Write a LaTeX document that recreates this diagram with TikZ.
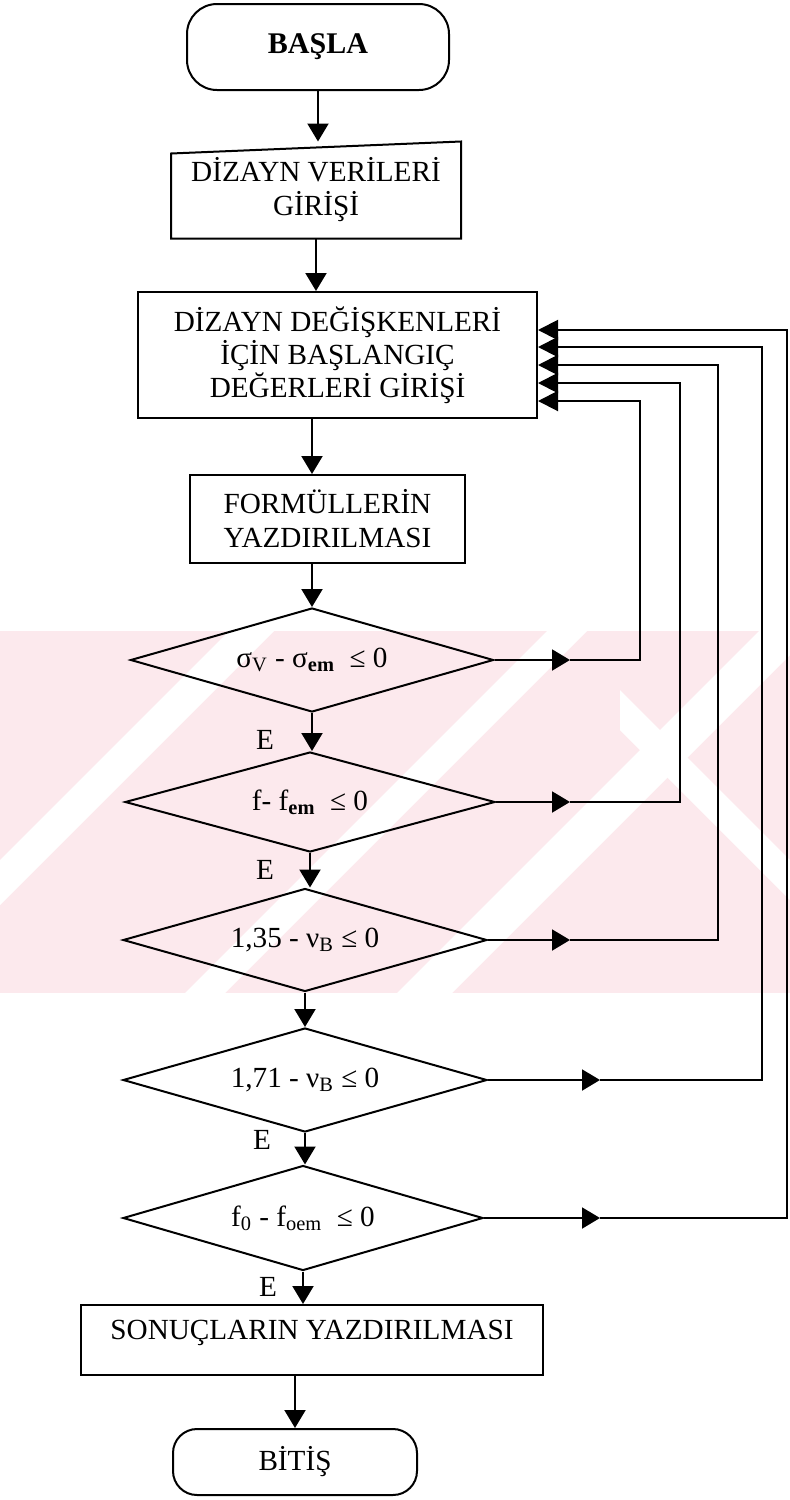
\documentclass[tikz,border=0pt]{standalone}
\usepackage{fontspec}
\setmainfont{Liberation Serif}
\usetikzlibrary{shapes.geometric,arrows.meta,calc}
\definecolor{wmpink}{RGB}{252,233,237}
\begin{document}
\begin{tikzpicture}[x=0.5pt,y=-0.5pt,line width=1pt,
  txt/.style={font=\fontsize{14.6}{17}\selectfont},
  startbox/.style={draw,rectangle,rounded corners=15pt,inner sep=0,txt,align=center},
  endbox/.style={draw,rectangle,rounded corners=12pt,inner sep=0,txt,align=center},
  procbox/.style={draw,rectangle,inner sep=0,txt,align=center},
  decbox/.style={draw,diamond,aspect=3.5,inner sep=0,txt},
  flow/.style={-{Triangle[length=9pt,width=10.5pt]}},
  back/.style={-{Triangle[length=10pt,width=10pt]}}]
\useasboundingbox (0,0) rectangle (790,1500);
% watermark band
\fill[wmpink] (0,631) rectangle (790,993);
\begin{scope}
\clip (0,631) rectangle (790,993);
\fill[white] (860,0) -- (905,0) -- (-595,1500) -- (-640,1500) -- cycle;
\fill[white] (1178,0) -- (1218,0) -- (-282,1500) -- (-322,1500) -- cycle;
\fill[white] (1390,0) -- (1445,0) -- (-55,1500) -- (-110,1500) -- cycle;
\fill[white] (620,690) -- (900,970) -- (900,1010) -- (620,730) -- cycle;
\end{scope}
% nodes
\node[startbox,minimum width=131pt,minimum height=43pt,font=\fontsize{15}{17}\selectfont\bfseries] (start) at (318,47) {\raisebox{3pt}{BAŞLA}};
\node[txt,align=center,inner sep=0,minimum width=144pt,minimum height=47.5pt] (inp) at (316,190) {DİZAYN VERİLERİ\\GİRİŞİ};
\draw (inp.south west) -- (inp.south east) -- (inp.north east) -- ($(inp.north west)+(0,12)$) -- cycle;
\node[procbox,minimum width=199.5pt,minimum height=63pt,font=\fontsize{14.6}{16.5}\selectfont] (vars) at (337.5,355) {DİZAYN DEĞİŞKENLERİ\\İÇİN BAŞLANGIÇ\\DEĞERLERİ GİRİŞİ};
\node[procbox,minimum width=137.5pt,minimum height=44pt] (form) at (327.5,519) {FORMÜLLERİN\\YAZDIRILMASI};
\node[decbox,minimum width=181.5pt,minimum height=52pt] (d1) at (312,660) {σ\textsubscript{V} - σ\textsubscript{\textbf{em}}\ \ ≤ 0};
\node[decbox,minimum width=185pt,minimum height=50pt] (d2) at (310,802) {f- f\textsubscript{\textbf{em}}\ \ ≤ 0};
\node[decbox,minimum width=182pt,minimum height=51.5pt] (d3) at (305,940) {1,35 - ν\textsubscript{B}\ ≤ 0};
\node[decbox,minimum width=182pt,minimum height=52pt] (d4) at (305,1080) {1,71 - ν\textsubscript{B}\ ≤ 0};
\node[decbox,minimum width=180pt,minimum height=52.5pt] (d5) at (303,1218) {f\textsubscript{0} - f\textsubscript{oem}\ \ ≤\ 0};
\node[procbox,minimum width=231pt,minimum height=35pt,text depth=10pt] (res) at (312,1340) {SONUÇLARIN YAZDIRILMASI};
\node[endbox,minimum width=122pt,minimum height=33pt] (end) at (295,1462) {BİTİŞ};
% E labels
\node[txt] (e1) at (265,740) {E};
\node[txt] (e2) at (265,870) {E};
\node[txt] (e4) at (262,1140) {E};
\node[txt] (e5) at (268,1287) {E};
% main flow
\draw[flow] (start.south) -- (start.south |- inp.north east);
\draw[flow] (inp.south) -- (inp.south |- vars.north);
\draw[flow] (d1.north |- vars.south) -- (d1.north |- form.north);
\draw[flow] (d1.north |- form.south) -- (d1.north);
\draw[flow] (d1.south) -- (d1.south |- d2.north);
\draw[flow] (d2.south) -- (d2.south |- d3.north);
\draw[flow] (d3.south) -- (d3.south |- d4.north);
\draw[flow] (d4.south) -- (d4.south |- d5.north);
\draw[flow] (d5.south) -- (d5.south |- res.north);
\draw[flow] (end.north |- res.south) -- (end.north);
% feedback loops
\coordinate (m1) at (570,660); \coordinate (r1) at (640,660);
\coordinate (m2) at (570,802); \coordinate (r2) at (680,802);
\coordinate (m3) at (570,940); \coordinate (r3) at (718,940);
\coordinate (m4) at (600,1080); \coordinate (r4) at (762,1080);
\coordinate (m5) at (600,1218); \coordinate (r5) at (787,1218);
\draw[flow] (d1.east) -- (m1);
\draw[flow] (d2.east) -- (m2);
\draw[flow] (d3.east) -- (m3);
\draw[flow] (d4.east) -- (m4);
\draw[flow] (d5.east) -- (m5);
\draw[back] (m1) -- (r1) |- ($(vars.east)+(0,46)$);
\draw[back] (m2) -- (r2) |- ($(vars.east)+(0,28)$);
\draw[back] (m3) -- (r3) |- ($(vars.east)+(0,10)$);
\draw[back] (m4) -- (r4) |- ($(vars.east)+(0,-8)$);
\draw[back] (m5) -- (r5) |- ($(vars.east)+(0,-25)$);
\end{tikzpicture}
\end{document}
